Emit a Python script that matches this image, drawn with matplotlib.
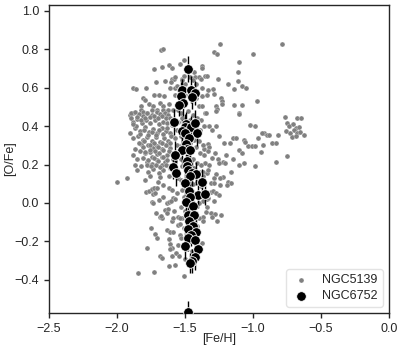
import matplotlib
matplotlib.use("Agg")
import matplotlib.pyplot as plt

plt.rcParams['font.family'] = ['Liberation Sans', 'DejaVu Sans']

# NGC5139 (gray) [Fe/H], [O/Fe] pairs
ngc5139_pts = [
    # upper spread
    (-1.677,0.797),(-1.662,0.800),(-1.245,0.828),(-0.784,0.828),(-1.285,0.783),(-1.267,0.774),
    (-0.998,0.776),(-1.103,0.736),(-1.507,0.743),(-1.535,0.724),(-1.615,0.717),(-1.667,0.710),
    (-1.726,0.696),(-1.596,0.700),(-1.377,0.714),(-1.373,0.703),(-1.108,0.679),(-1.434,0.680),
    (-1.426,0.653),(-1.400,0.653),(-1.385,0.646),(-1.353,0.660),(-1.336,0.660),(-1.257,0.644),
    (-1.186,0.621),(-1.108,0.637),(-1.142,0.592),(-1.083,0.608),(-1.054,0.600),(-1.296,0.592),
    (-1.284,0.566),(-1.373,0.600),(-1.373,0.557),(-1.410,0.580),(-0.970,0.533),(-1.237,0.548),
    (-1.230,0.530),(-1.230,0.516),(-1.272,0.507),(-1.267,0.490),(-1.142,0.510),(-1.083,0.510),
    (-1.400,0.505),(-1.375,0.505),(-1.353,0.467),(-1.103,0.467),
    (-1.711,0.627),(-1.647,0.632),(-1.596,0.644),(-1.579,0.647),(-1.603,0.627),(-1.520,0.644),
    (-1.507,0.658),(-1.610,0.600),(-1.571,0.597),(-1.880,0.597),(-1.858,0.592),(-1.787,0.597),
    (-1.807,0.548),(-1.792,0.535),(-1.730,0.562),(-1.693,0.561),(-1.657,0.557),(-1.571,0.562),
    (-1.615,0.516),(-1.767,0.517),(-1.733,0.507),(-1.684,0.519),(-1.664,0.507),(-1.826,0.503),
    (-1.826,0.484),(-1.807,0.475),(-1.880,0.467),(-1.904,0.458),(-1.745,0.484),(-1.708,0.484),
    (-1.660,0.484),(-1.623,0.484),(-1.586,0.484),(-1.549,0.484),(-1.782,0.467),
    (-1.500,0.620),(-1.555,0.610),(-1.460,0.655),(-1.440,0.640),(-1.420,0.620),(-1.570,0.655),
    (-1.525,0.640),(-1.500,0.560),(-1.540,0.590),(-1.420,0.545),(-1.330,0.590),(-1.340,0.560),
    # right arm
    (-1.348,0.467),(-1.272,0.476),(-1.103,0.464),(-0.765,0.446),(-0.674,0.441),(-0.647,0.441),
    (-0.750,0.415),(-0.733,0.403),(-0.704,0.411),(-0.684,0.390),(-0.662,0.397),(-0.699,0.380),
    (-0.760,0.373),(-0.728,0.363),(-0.674,0.363),(-0.654,0.371),(-0.627,0.354),(-0.716,0.342),
    (-0.684,0.349),(-0.816,0.354),(-1.324,0.403),(-1.272,0.403),(-1.022,0.406),(-0.983,0.401),
    (-1.145,0.337),(-1.127,0.337),(-1.066,0.328),(-0.919,0.363),(-0.899,0.353),(-0.882,0.353),
    (-0.934,0.363),(-0.965,0.339),(-1.213,0.314),(-1.169,0.314),(-1.034,0.297),(-1.010,0.297),
    (-0.983,0.297),(-1.059,0.319),(-0.929,0.304),(-0.863,0.311),(-0.833,0.311),(-0.939,0.264),
    (-1.105,0.276),(-1.083,0.262),(-0.753,0.246),(-0.831,0.212),(-1.066,0.207),(-0.983,0.194),
    (-1.101,0.198),(-1.160,0.163),(-1.218,0.137),(-1.243,0.130),(-1.275,0.151),(-1.287,0.128),
    (-1.182,0.111),(-1.160,0.106),(-1.329,0.307),(-1.324,0.293),(-1.360,0.280),(-1.329,0.272),
    (-1.299,0.233),(-1.260,0.229),(-1.223,0.215),(-1.206,0.210),(-1.248,0.207),(-1.350,0.207),
    (-1.320,0.200),(-1.365,0.163),(-1.340,0.155),(-1.329,0.172),(-1.310,0.102),(-1.290,0.102),
    (-1.300,0.380),(-1.250,0.350),(-1.200,0.250),(-1.280,0.260),(-1.150,0.230),
    # lower right of centre
    (-1.309,0.059),(-1.292,0.062),(-1.272,0.050),(-1.250,0.042),(-1.340,0.021),(-1.329,0.024),
    (-1.285,0.012),(-1.370,0.010),(-1.340,-0.019),(-1.348,-0.048),(-1.311,-0.054),(-1.279,-0.059),
    (-1.238,-0.062),(-1.304,-0.074),(-1.267,-0.092),(-1.370,-0.071),(-1.365,-0.094),(-1.410,-0.120),
    (-1.377,-0.210),(-1.243,0.094),(-1.193,0.094),
    # dense left cluster
    (-1.900,0.467),(-1.868,0.475),(-1.836,0.463),(-1.806,0.453),(-1.782,0.470),(-1.745,0.458),
    (-1.708,0.475),(-1.684,0.463),(-1.647,0.470),(-1.623,0.458),
    (-1.885,0.423),(-1.855,0.435),(-1.819,0.415),(-1.787,0.432),(-1.757,0.418),(-1.721,0.432),
    (-1.689,0.411),(-1.659,0.423),(-1.630,0.415),(-1.598,0.406),
    (-1.904,0.366),(-1.868,0.388),(-1.831,0.376),(-1.794,0.394),(-1.762,0.371),(-1.733,0.383),
    (-1.703,0.366),(-1.672,0.388),(-1.640,0.376),(-1.610,0.362),
    (-1.880,0.336),(-1.843,0.349),(-1.811,0.328),(-1.777,0.345),(-1.745,0.324),(-1.713,0.342),
    (-1.684,0.319),(-1.654,0.336),(-1.623,0.324),(-1.826,0.307),
    (-1.806,0.293),(-1.770,0.302),(-1.738,0.284),(-1.708,0.297),(-1.672,0.279),(-1.640,0.302),
    (-1.610,0.284),(-1.757,0.267),
    (-1.880,0.250),(-1.794,0.258),(-1.745,0.241),(-1.708,0.255),(-1.672,0.237),(-1.635,0.250),
    (-1.598,0.262),
    (-1.782,0.215),(-1.745,0.203),(-1.708,0.224),(-1.672,0.198),(-1.647,0.215),(-1.615,0.192),
    (-1.770,0.163),(-1.733,0.175),(-1.689,0.154),(-1.659,0.171),(-1.684,0.137),
    (-1.998,0.111),(-1.929,0.128),(-1.794,0.119),(-1.696,0.111),(-1.659,0.093),(-1.721,0.076),
    (-1.860,0.400),(-1.830,0.360),(-1.800,0.380),(-1.770,0.355),(-1.740,0.370),(-1.710,0.355),
    (-1.690,0.380),(-1.660,0.360),(-1.630,0.390),(-1.600,0.350),(-1.840,0.310),(-1.800,0.320),
    (-1.760,0.300),(-1.730,0.310),(-1.700,0.290),(-1.670,0.310),(-1.640,0.300),(-1.610,0.310),
    (-1.870,0.280),(-1.830,0.270),(-1.790,0.265),(-1.760,0.275),(-1.720,0.270),(-1.690,0.260),
    (-1.660,0.275),(-1.620,0.270),(-1.850,0.230),(-1.810,0.235),(-1.770,0.225),(-1.730,0.235),
    (-1.700,0.220),(-1.660,0.240),(-1.630,0.225),(-1.590,0.230),(-1.820,0.190),(-1.780,0.200),
    (-1.750,0.190),(-1.710,0.200),(-1.680,0.185),(-1.640,0.195),(-1.610,0.180),(-1.580,0.200),
    (-1.900,0.440),(-1.880,0.410),(-1.850,0.445),(-1.820,0.430),(-1.790,0.440),(-1.760,0.445),
    (-1.730,0.450),(-1.700,0.440),(-1.670,0.450),(-1.640,0.440),(-1.610,0.440),(-1.580,0.430),
    (-1.550,0.420),(-1.560,0.380),(-1.570,0.340),(-1.560,0.300),(-1.550,0.260),(-1.570,0.220),
    (-1.560,0.170),(-1.550,0.130),(-1.870,0.200),(-1.850,0.170),(-1.760,0.140),(-1.620,0.140),
    # central column behind NGC6752
    (-1.530,0.470),(-1.480,0.480),(-1.440,0.460),(-1.410,0.440),(-1.380,0.430),(-1.520,0.440),
    (-1.460,0.430),(-1.420,0.400),(-1.390,0.380),(-1.360,0.400),(-1.530,0.350),(-1.470,0.350),
    (-1.430,0.330),(-1.400,0.320),(-1.370,0.300),(-1.520,0.300),(-1.460,0.310),(-1.420,0.290),
    (-1.390,0.260),(-1.360,0.250),(-1.530,0.230),(-1.480,0.240),(-1.440,0.230),(-1.410,0.210),
    (-1.380,0.200),(-1.520,0.190),(-1.460,0.170),(-1.430,0.180),(-1.400,0.160),(-1.370,0.140),
    (-1.530,0.120),(-1.470,0.120),(-1.440,0.100),(-1.410,0.110),(-1.380,0.090),(-1.520,0.070),
    (-1.490,0.080),(-1.450,0.060),(-1.420,0.050),(-1.510,0.030),(-1.470,0.020),(-1.430,-0.010),
    (-1.400,0.000),(-1.530,-0.020),(-1.500,-0.040),(-1.460,-0.030),(-1.420,-0.050),(-1.520,-0.080),
    (-1.480,-0.090),(-1.440,-0.100),(-1.400,-0.080),(-1.510,-0.130),(-1.470,-0.150),(-1.430,-0.140),
    (-1.500,-0.180),(-1.460,-0.200),(-1.420,-0.190),(-1.490,-0.240),(-1.450,-0.250),(-1.500,-0.290),
    # lower left
    (-1.789,0.056),(-1.765,0.064),(-1.745,0.073),(-1.725,0.080),(-1.708,0.080),(-1.738,0.045),
    (-1.721,0.050),(-1.689,0.016),(-1.745,0.004),(-1.615,0.077),(-1.598,0.068),(-1.586,0.028),
    (-1.574,0.021),(-1.630,-0.002),(-1.615,0.007),(-1.647,-0.036),(-1.623,-0.031),(-1.635,-0.054),
    (-1.684,-0.071),(-1.671,-0.080),(-1.598,-0.094),(-1.586,-0.080),(-1.549,-0.071),(-1.537,-0.080),
    (-1.554,-0.115),(-1.537,-0.111),(-1.752,-0.128),(-1.635,-0.141),(-1.610,-0.150),(-1.590,-0.153),
    (-1.721,-0.163),(-1.708,-0.184),(-1.537,-0.167),(-1.530,-0.184),(-1.610,-0.215),(-1.598,-0.233),
    (-1.777,-0.236),(-1.684,-0.276),(-1.671,-0.285),(-1.598,-0.274),(-1.549,-0.219),(-1.613,-0.239),
    (-1.620,-0.187),(-1.566,-0.260),(-1.540,-0.277),(-1.738,0.000),(-1.710,-0.052),(-1.676,-0.069),
    (-1.600,0.009),(-1.660,0.030),(-1.560,0.050),(-1.580,-0.040),
    (-1.843,-0.366),(-1.726,-0.358),(-1.615,-0.330),(-1.571,-0.323),(-1.507,-0.378),
]
feh_5139 = [p[0] for p in ngc5139_pts]
ofe_5139 = [p[1] for p in ngc5139_pts]

# NGC6752 (black) with vertical error bars
feh_6752 = [-1.475,-1.520,-1.456,-1.426,-1.532,-1.451,-1.512,-1.544,-1.583,-1.495,-1.500,-1.458,
            -1.426,-1.525,-1.498,-1.414,-1.473,-1.490,-1.488,-1.522,-1.466,-1.576,-1.485,-1.485,
            -1.586,-1.564,-1.478,-1.451,-1.417,-1.461,-1.502,-1.373,-1.471,-1.402,-1.350,-1.466,
            -1.490,-1.441,-1.475,-1.431,-1.473,-1.439,-1.475,-1.421,-1.458,-1.475,-1.429,-1.498,
            -1.407,-1.429,-1.449,-1.466,-1.478]
ofe_6752 = [0.697,0.586,0.589,0.572,0.558,0.551,0.520,0.510,0.421,0.412,0.395,0.395,
            0.416,0.373,0.364,0.364,0.338,0.308,0.281,0.277,0.276,0.251,0.220,0.191,
            0.185,0.158,0.173,0.156,0.153,0.139,0.104,0.107,0.061,0.043,0.049,0.031,
            0.003,-0.017,-0.061,-0.061,-0.095,-0.118,-0.135,-0.151,-0.166,-0.182,-0.191,-0.222,
            -0.239,-0.281,-0.302,-0.312,-0.568]
err_6752 = [0.07,0.06,0.07,0.06,0.07,0.06,0.07,0.06,0.07,0.06,0.07,0.06,
            0.07,0.06,0.07,0.07,0.06,0.07,0.06,0.07,0.06,0.07,0.06,0.07,
            0.06,0.07,0.06,0.07,0.06,0.07,0.06,0.07,0.06,0.07,0.06,0.07,
            0.06,0.07,0.06,0.07,0.06,0.07,0.06,0.07,0.06,0.07,0.06,0.07,
            0.06,0.07,0.06,0.05,0.06]

xticks = [-2.5, -2.0, -1.5, -1.0, -0.5, 0.0]
yticks = [-0.4, -0.2, 0.0, 0.2, 0.4, 0.6, 0.8, 1.0]

dark = '#262626'
fig = plt.figure(figsize=(4.07, 3.57), dpi=100)
ax = fig.add_axes([0.120, 0.123, 0.836, 0.863])

ax.scatter(feh_5139, ofe_5139, s=13, c='#808080', edgecolors='white', linewidths=0.2,
           label='NGC5139', zorder=2)
ax.errorbar(feh_6752, ofe_6752, yerr=err_6752, fmt='none', ecolor='black',
            elinewidth=1.0, zorder=3)
ax.scatter(feh_6752, ofe_6752, s=48, c='black', edgecolors='white', linewidths=0.6,
           label='NGC6752', zorder=4)

ax.set_xlim(-2.5, 0.0)
ax.set_ylim(-0.573, 1.03)
ax.set_xticks(xticks)
ax.set_yticks(yticks)
ax.set_xticklabels([f"{v:.1f}".replace('-', '\u2212') for v in xticks])
ax.set_yticklabels([f"{v:.1f}".replace('-', '\u2212') for v in yticks])
ax.tick_params(direction='out', length=3.5, width=1, colors=dark, labelsize=9)
for sp in ax.spines.values():
    sp.set_color(dark)
    sp.set_linewidth(1.0)
ax.set_xlabel('[Fe/H]', fontsize=9, color=dark, labelpad=-1)
ax.set_ylabel('[O/Fe]', fontsize=9, color=dark, labelpad=-1)

leg = ax.legend(loc='lower right', fontsize=9, frameon=True, borderpad=0.4,
                handlelength=1.6, handletextpad=0.9, labelspacing=0.3)
leg.get_frame().set_edgecolor('#dddddd')
for t in leg.get_texts():
    t.set_color(dark)

fig.savefig('out.png', dpi=100)
